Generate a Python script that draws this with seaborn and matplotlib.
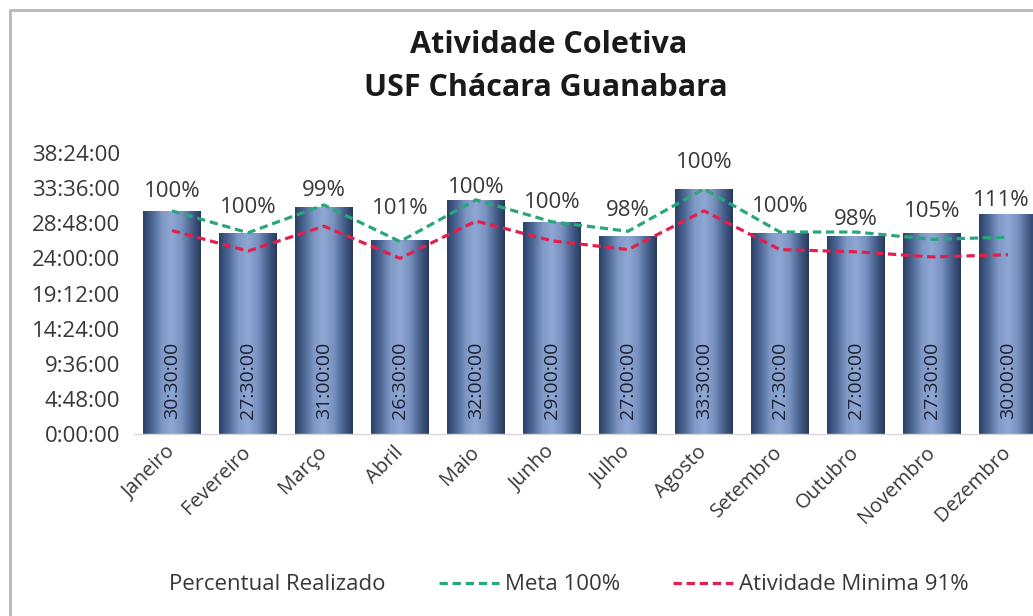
import numpy as np
import pandas as pd
import matplotlib
matplotlib.use("Agg")
import matplotlib.pyplot as plt
import seaborn as sns
from matplotlib.colors import LinearSegmentedColormap
from matplotlib.lines import Line2D
from matplotlib.patches import Patch

# ---------------- data ----------------
meses = ["Janeiro", "Fevereiro", "Março", "Abril", "Maio", "Junho",
         "Julho", "Agosto", "Setembro", "Outubro", "Novembro", "Dezembro"]
realizado_h = [30.5, 27.5, 31.0, 26.5, 32.0, 29.0, 27.0, 33.5, 27.5, 27.0, 27.5, 30.0]
realizado_txt = ["30:30:00", "27:30:00", "31:00:00", "26:30:00", "32:00:00", "29:00:00",
                 "27:00:00", "33:30:00", "27:30:00", "27:00:00", "27:30:00", "30:00:00"]
percentual_txt = ["100%", "100%", "99%", "101%", "100%", "100%",
                  "98%", "100%", "100%", "98%", "105%", "111%"]
meta_h = [30.5, 27.5, 31.3, 26.3, 32.0, 29.0, 27.7, 33.5, 27.6, 27.6, 26.6, 26.9]
minima_h = [27.8, 25.0, 28.4, 24.0, 29.1, 26.4, 25.2, 30.5, 25.2, 24.9, 24.2, 24.5]
ytick_h = [0, 4.8, 9.6, 14.4, 19.2, 24.0, 28.8, 33.6, 38.4]
ytick_txt = ["0:00:00", "4:48:00", "9:36:00", "14:24:00", "19:12:00",
             "24:00:00", "28:48:00", "33:36:00", "38:24:00"]

# label offsets (points) - layout only
pct_dy = [14, 18, 12, 23, 9, 14, 19, 19, 19, 12, 15, 10]
pct_dx = [0, 0, 0, 0, 0, 0, 0, 0, 0, 0, 0, -5]

FONT = "Open Sans"
sns.set_theme(style="white")
plt.rcParams["font.family"] = [FONT, "DejaVu Sans"]

fig = plt.figure(figsize=(10.33, 6.16), dpi=100)
ax = fig.add_axes([134 / 1033, (616 - 434) / 616, 912 / 1033, 281 / 616])

df = pd.DataFrame({"Mes": meses, "Horas": realizado_h})
sns.barplot(data=df, x="Mes", y="Horas", width=0.76, color="#5a73a0",
            ax=ax, zorder=2, edgecolor="none")

# cylinder-like horizontal gradient for each bar
cmap = LinearSegmentedColormap.from_list(
    "cyl", ["#2b4066", "#4d6896", "#7f98c6", "#8fa7d3", "#7a92c0", "#4a628f", "#26395c"])
grad = np.linspace(0, 1, 256).reshape(1, -1)
for p in list(ax.patches):
    x0, y0 = p.get_x(), p.get_y()
    w, h = p.get_width(), p.get_height()
    im = ax.imshow(grad, cmap=cmap, extent=[x0, x0 + w, y0, y0 + h],
                   aspect="auto", zorder=2, interpolation="bilinear")
    im.set_clip_path(p)
    p.set_facecolor("none")

DASH = (0, (2.6, 1.5))
xs = np.arange(len(meses))
sns.lineplot(x=xs, y=meta_h, ax=ax, color="#27a77b", lw=2.3,
             linestyle=DASH, zorder=3, legend=False)
sns.lineplot(x=xs, y=minima_h, ax=ax, color="#e3204d", lw=2.3,
             linestyle=DASH, zorder=3, legend=False)

ax.set_xlim(-0.5, 11.5)
ax.set_ylim(0, 38.4)
ax.set_yticks(ytick_h)
ax.set_yticklabels(ytick_txt)
ax.set_xticks(xs)
ax.set_xticklabels(meses, rotation=45, ha="right", rotation_mode="anchor")
ax.set_xlabel("")
ax.set_ylabel("")
ax.tick_params(axis="y", length=0, pad=10, labelsize=16, labelcolor="#383838")
ax.tick_params(axis="x", length=0, pad=11, labelsize=14.5, labelcolor="#383838")
for lab in ax.get_xticklabels():
    lab.set_va("center")
for s in ["left", "top", "right"]:
    ax.spines[s].set_visible(False)
ax.spines["bottom"].set_color("#d8d8d8")
ax.spines["bottom"].set_linewidth(1)
ax.grid(False)

# value labels
for i, t in enumerate(realizado_txt):
    ax.annotate(t, xy=(i, 0), xytext=(0, 11), textcoords="offset points",
                rotation=90, ha="center", va="bottom", fontsize=14,
                color="#1c2030", zorder=4)
for i, (v, t) in enumerate(zip(realizado_h, percentual_txt)):
    ax.annotate(t, xy=(i, v), xytext=(pct_dx[i], pct_dy[i]), textcoords="offset points",
                ha="center", va="center", fontsize=16, color="#383838", zorder=4)

# title
fig.text(549 / 1033, 1 - 45 / 616, "Atividade Coletiva", ha="center", va="center",
         fontsize=22, fontweight="bold", color="#1a1a1a")
fig.text(546 / 1033, 1 - 88 / 616, "USF Chácara Guanabara", ha="center", va="center",
         fontsize=22, fontweight="bold", color="#1a1a1a")

# legend
handles = [Patch(facecolor="none", edgecolor="none"),
           Line2D([], [], color="#27a77b", lw=2.3, linestyle=DASH),
           Line2D([], [], color="#e3204d", lw=2.3, linestyle=DASH)]
labels = ["Percentual Realizado", "Meta 100%", "Atividade Minima 91%"]
fig.legend(handles, labels, loc="center", bbox_to_anchor=(536 / 1033, 1 - 585 / 616),
           ncol=3, frameon=False, fontsize=16, handlelength=2.7, columnspacing=2.4,
           handletextpad=0.25, labelcolor="#383838")

# chart border
fig.add_artist(Line2D([10 / 1033, 10 / 1033], [0, 1 - 10 / 616], color="#b8b8b8", lw=2,
                      transform=fig.transFigure))
fig.add_artist(Line2D([10 / 1033, 1], [1 - 10 / 616, 1 - 10 / 616], color="#b8b8b8", lw=2,
                      transform=fig.transFigure))

fig.savefig("out.png", dpi=100)
